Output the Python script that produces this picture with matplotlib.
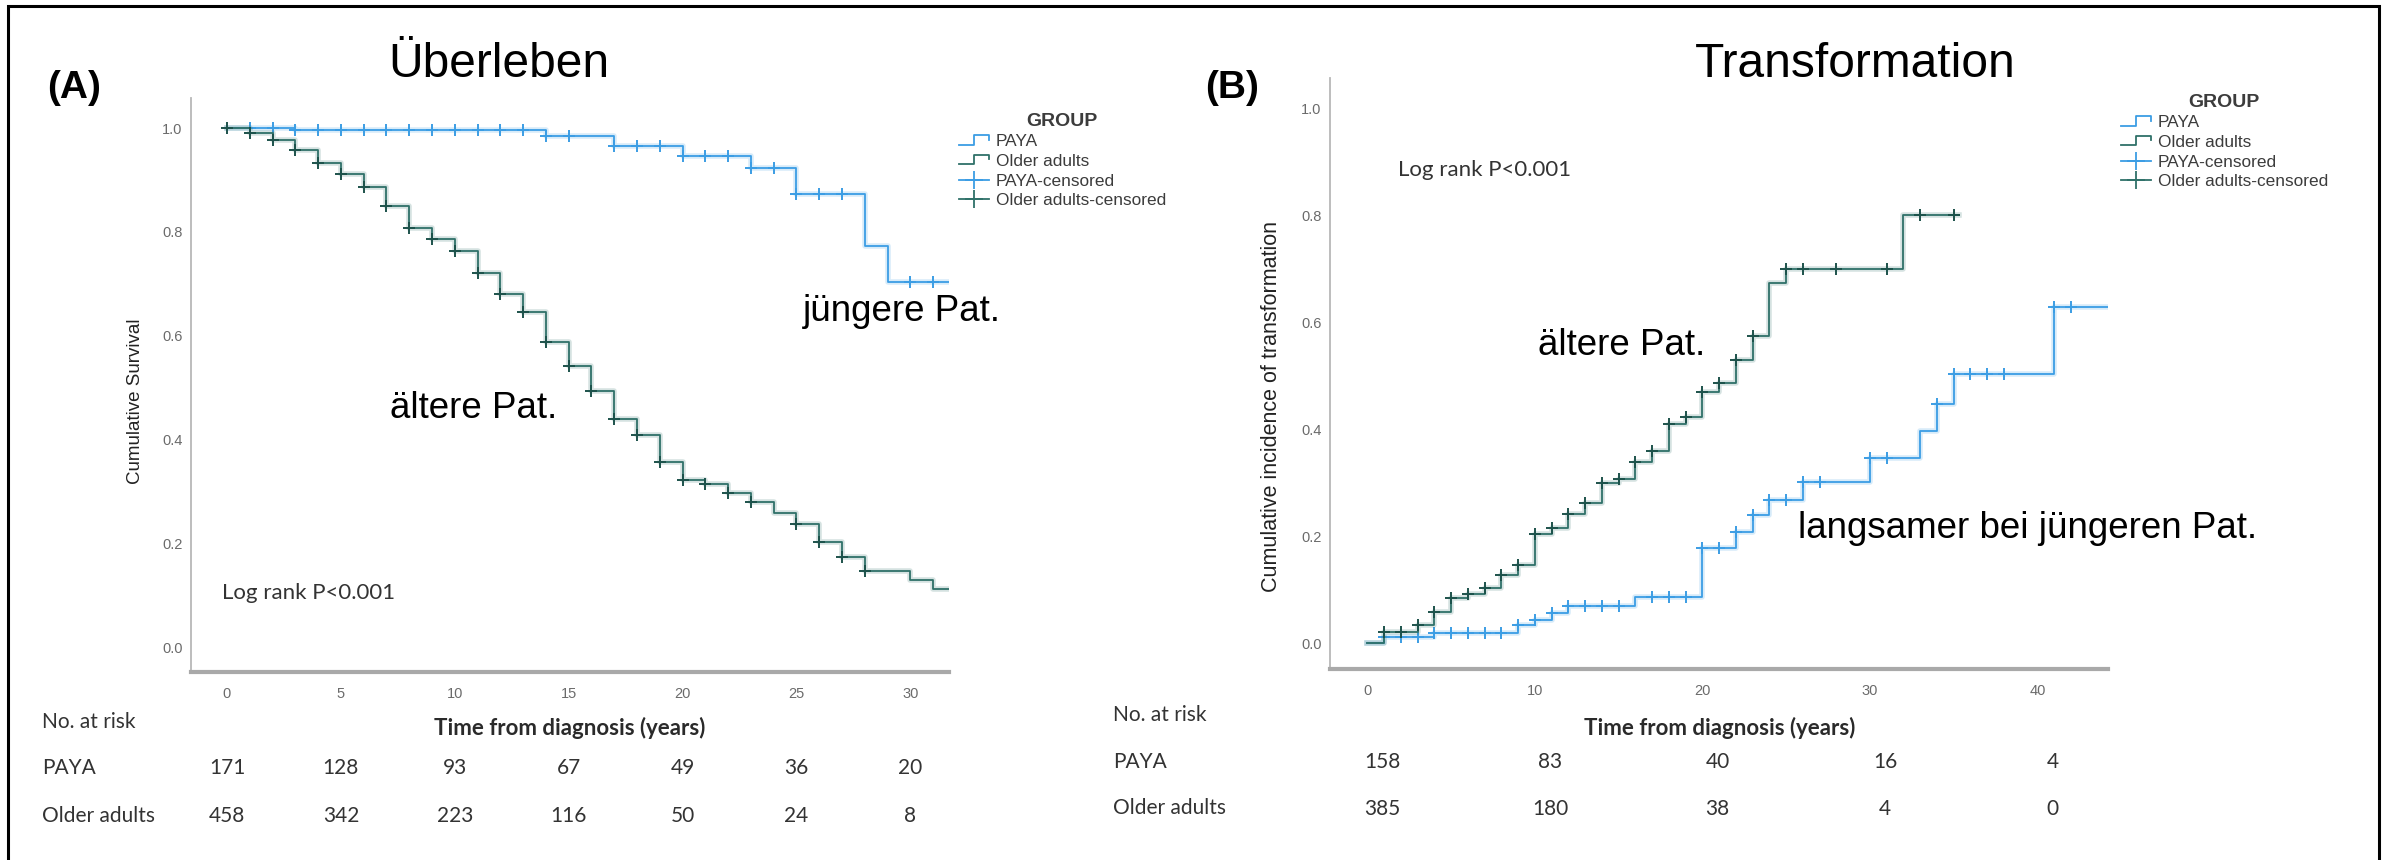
import numpy as np
import matplotlib.pyplot as plt
from matplotlib.lines import Line2D
from matplotlib.legend_handler import HandlerBase
from matplotlib.patches import Rectangle
from matplotlib import transforms

plt.rcParams['font.family'] = ['Liberation Sans', 'DejaVu Sans']

# --- Panel A: Überleben (Kaplan-Meier) ---
a_paya_t = [0, 3, 14, 17, 20, 23, 25, 28, 29]
a_paya_s = [1.0, 0.996, 0.985, 0.966, 0.946, 0.923, 0.873, 0.773, 0.703]
a_paya_end = 31.7
a_paya_cens = [1, 2, 3, 4, 5, 6, 7, 8, 9, 10, 11, 12, 13, 14, 15, 17, 18, 19,
               20, 21, 22, 23, 24, 25, 26, 27, 30, 31]

a_old_t = [0, 1, 2, 3, 4, 5, 6, 7, 8, 9, 10, 11, 12, 13, 14, 15, 16, 17, 18,
           19, 20, 21, 22, 23, 24, 25, 26, 27, 28, 30, 31]
a_old_s = [1.0, 0.990, 0.977, 0.958, 0.933, 0.911, 0.887, 0.850, 0.807, 0.787,
           0.764, 0.720, 0.681, 0.645, 0.588, 0.542, 0.493, 0.439, 0.408, 0.357,
           0.322, 0.314, 0.297, 0.279, 0.259, 0.237, 0.202, 0.174, 0.147, 0.129,
           0.112]
a_old_end = 31.7
a_old_cens = [0, 1, 2, 3, 4, 5, 6, 7, 8, 9, 10, 11, 12, 13, 14, 15, 16, 17, 18,
              19, 20, 21, 22, 23, 25, 26, 27, 28]

risk_times_a = [0, 5, 10, 15, 20, 25, 30]
risk_paya_a = [171, 128, 93, 67, 49, 36, 20]
risk_old_a = [458, 342, 223, 116, 50, 24, 8]

# --- Panel B: Transformation (cumulative incidence) ---
b_paya_t = [0, 1, 4, 9, 10, 11, 12, 16, 20, 22, 23, 24, 26, 30, 33, 34, 35, 41]
b_paya_v = [0.0, 0.012, 0.020, 0.034, 0.044, 0.056, 0.069, 0.087, 0.179, 0.208,
            0.240, 0.269, 0.302, 0.346, 0.397, 0.448, 0.504, 0.629]
b_paya_end = 44.2
b_paya_cens = [1, 2, 3, 4, 5, 6, 7, 8, 9, 10, 11, 12, 13, 14, 15, 17, 18, 19,
               20, 21, 22, 23, 24, 25, 26, 27, 30, 31, 34, 35, 36, 37, 38, 41, 42]

b_old_t = [0, 1, 3, 4, 5, 6, 7, 8, 9, 10, 11, 12, 13, 14, 15, 16, 17, 18, 19,
           20, 21, 22, 23, 24, 25, 32]
b_old_v = [0.0, 0.022, 0.035, 0.059, 0.084, 0.092, 0.104, 0.127, 0.146, 0.204,
           0.215, 0.243, 0.263, 0.300, 0.308, 0.340, 0.360, 0.411, 0.424, 0.471,
           0.488, 0.530, 0.575, 0.675, 0.700, 0.801]
b_old_end = 35.3
b_old_cens = [1, 2, 3, 4, 5, 6, 7, 8, 9, 10, 11, 12, 13, 14, 15, 16, 17, 18, 19,
              20, 21, 22, 23, 25, 26, 28, 31, 33, 35]

risk_times_b = [0, 10, 20, 30, 40]
risk_paya_b = [158, 83, 40, 16, 4]
risk_old_b = [385, 180, 38, 4, 0]

group_labels = ['PAYA', 'Older adults', 'PAYA-censored', 'Older adults-censored']

BLUE = '#3b9de4'
GREEN = '#2f7169'
GREEN_M = '#1d524b'
SMALL = 'Lato'

W, H = 2389, 860
fig = plt.figure(figsize=(W / 100, H / 100), dpi=100)


def fx(px):
    return px / W


def fy(py):
    return 1 - py / H


def km(ax, t, v, end, cens, color, mcolor):
    xs = list(t) + [end]
    ys = list(v) + [v[-1]]
    ax.step(xs, ys, where='post', color=color, lw=4, alpha=0.2)
    ax.step(xs, ys, where='post', color=color, lw=1.3)
    idx = np.searchsorted(t, cens, side='right') - 1
    ax.plot(cens, np.array(v)[idx], ls='none', marker='+', ms=8, mew=1.4,
            color=mcolor)


def style(ax, xlim, xticks):
    ax.set_xlim(*xlim)
    ax.set_ylim(-0.048, 1.058)
    ax.set_xticks(xticks)
    ax.set_yticks([0, 0.2, 0.4, 0.6, 0.8, 1.0])
    ax.set_yticklabels(['0.0', '0.2', '0.4', '0.6', '0.8', '1.0'])
    ax.spines['top'].set_visible(False)
    ax.spines['right'].set_visible(False)
    ax.spines['left'].set_color('#b8b8b8')
    ax.spines['left'].set_linewidth(1.3)
    ax.spines['bottom'].set_color('#a9a9a9')
    ax.spines['bottom'].set_linewidth(3)
    ax.tick_params(length=0, labelsize=10.5, labelcolor='#6b6b6b')
    ax.tick_params(axis='x', pad=11)
    ax.tick_params(axis='y', pad=6)


class StepHandler(HandlerBase):
    def create_artists(self, legend, orig_handle, xdescent, ydescent, width,
                       height, fontsize, trans):
        x0, y0 = -xdescent, -ydescent
        xs = [x0, x0 + 0.5 * width, x0 + 0.5 * width, x0 + width, x0 + width]
        ys = [y0 + 0.15 * height, y0 + 0.15 * height, y0 + 0.9 * height,
              y0 + 0.9 * height, y0 + 0.55 * height]
        ln = Line2D(xs, ys, color=orig_handle.get_color(), lw=1.3)
        ln.set_transform(trans)
        return [ln]


def group_legend(x, y):
    h1 = Line2D([], [], color=BLUE)
    h2 = Line2D([], [], color=GREEN)
    h3 = Line2D([], [], color=BLUE, marker='+', ms=13, mew=1.3, lw=1.3)
    h4 = Line2D([], [], color=GREEN, marker='+', ms=13, mew=1.3, lw=1.3)
    leg = fig.legend([h1, h2, h3, h4], group_labels, loc='upper left',
                     bbox_to_anchor=(fx(x), fy(y)), frameon=False, borderpad=0,
                     handlelength=1.75, handletextpad=0.4, labelspacing=0.27,
                     numpoints=1, fontsize=12.4, title='GROUP',
                     title_fontproperties={'weight': 'bold', 'size': 14},
                     handler_map={h1: StepHandler(), h2: StepHandler()})
    for txt in leg.get_texts():
        txt.set_color('#3c3c3c')
    leg.get_title().set_color('#3c3c3c')
    return leg


# panel A
axA = fig.add_axes([fx(191), fy(672), (949 - 191) / W, (672 - 98) / H])
km(axA, a_paya_t, a_paya_s, a_paya_end, a_paya_cens, BLUE, BLUE)
km(axA, a_old_t, a_old_s, a_old_end, a_old_cens, GREEN, GREEN_M)
style(axA, (-1.58, 31.7), [0, 5, 10, 15, 20, 25, 30])

# panel B
axB = fig.add_axes([fx(1330), fy(669), (2108 - 1330) / W, (669 - 78) / H])
km(axB, b_paya_t, b_paya_v, b_paya_end, b_paya_cens, BLUE, BLUE)
km(axB, b_old_t, b_old_v, b_old_end, b_old_cens, GREEN, GREEN_M)
style(axB, (-2.23, 44.22), [0, 10, 20, 30, 40])

group_legend(950, 104)
group_legend(2112, 85)

# titles and panel letters
fig.text(fx(388), fy(77), 'Überleben', fontsize=34.5, va='baseline')
fig.text(fx(1695), fy(77), 'Transformation', fontsize=34.5, va='baseline')
fig.text(fx(47), fy(88), '(A)', fontsize=28, weight='bold', va='center')
fig.text(fx(1205), fy(88), '(B)', fontsize=28, weight='bold', va='center')

# annotations
fig.text(fx(390), fy(418), 'ältere Pat.', fontsize=26.5, va='baseline')
fig.text(fx(803), fy(321), 'jüngere Pat.', fontsize=26.5, va='baseline')
fig.text(fx(1538), fy(355), 'ältere Pat.', fontsize=26.5, va='baseline')
fig.text(fx(1798), fy(538), 'langsamer bei jüngeren Pat.', fontsize=26.5,
         va='baseline')

# axis labels
fig.text(fx(135), fy(401), 'Cumulative Survival', rotation=90, fontsize=13.5,
         ha='center', va='center', color='#222222')
fig.text(fx(1272), fy(407), 'Cumulative incidence of transformation',
         rotation=90, fontsize=15.5, ha='center', va='center', color='#222222')
fig.text(fx(570), fy(728), 'Time from diagnosis (years)', family=SMALL,
         weight='bold', fontsize=16, ha='center', va='center', color='#2a2a2a')
fig.text(fx(1720), fy(728), 'Time from diagnosis (years)', family=SMALL,
         weight='bold', fontsize=16, ha='center', va='center', color='#2a2a2a')

fig.text(fx(222), fy(593), 'Log rank P<0.001', family=SMALL, fontsize=16,
         va='center', color='#333333')
fig.text(fx(1398), fy(170), 'Log rank P<0.001', family=SMALL, fontsize=16,
         va='center', color='#333333')

# number at risk tables
for x0, ys in [(42, (722, 768, 816)), (1113, (715, 762, 808))]:
    for lab, yy in zip(['No. at risk', 'PAYA', 'Older adults'], ys):
        fig.text(fx(x0), fy(yy), lab, family=SMALL, fontsize=15, va='center',
                 color='#333333')

trA = transforms.blended_transform_factory(axA.transData, fig.transFigure)
for tt, n1, n2 in zip(risk_times_a, risk_paya_a, risk_old_a):
    fig.text(tt, fy(768), str(n1), transform=trA, family=SMALL, fontsize=15,
             ha='center', va='center', color='#333333')
    fig.text(tt, fy(816), str(n2), transform=trA, family=SMALL, fontsize=15,
             ha='center', va='center', color='#333333')

trB = transforms.blended_transform_factory(axB.transData, fig.transFigure)
for tt, n1, n2 in zip(risk_times_b, risk_paya_b, risk_old_b):
    fig.text(tt + 0.9, fy(762), str(n1), transform=trB, family=SMALL,
             fontsize=15, ha='center', va='center', color='#333333')
    fig.text(tt + 0.9, fy(809), str(n2), transform=trB, family=SMALL,
             fontsize=15, ha='center', va='center', color='#333333')

# outer frame
fig.patches.append(Rectangle((fx(8), fy(880)), fx(2379) - fx(8),
                             (880 - 6) / H, transform=fig.transFigure,
                             fill=False, edgecolor='black', lw=2.2,
                             clip_on=False))

fig.savefig('out.png', dpi=100)
